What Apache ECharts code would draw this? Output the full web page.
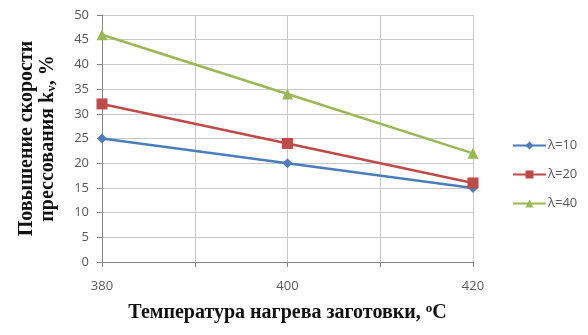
<!DOCTYPE html>
<html><head><meta charset="utf-8">
<script src="https://cdn.jsdelivr.net/npm/echarts@6/dist/echarts.min.js"></script>
<style>html,body{margin:0;padding:0;background:#fff}#c{width:588px;height:335px}</style>
</head><body><div id="c"></div>
<script>
var temps = [380, 400, 420];
var xTickLabels = ['380', '400', '420'];
var yTicks = [0, 5, 10, 15, 20, 25, 30, 35, 40, 45, 50];
var seriesNames = ['λ=10', 'λ=20', 'λ=40'];
var lambda10 = [25, 20, 15];
var lambda20 = [32, 24, 16];
var lambda40 = [46, 34, 22];

var colors = ['#4A7EBB', '#BE4B48', '#98B954'];
var symbols = ['diamond', 'rect', 'triangle'];
var sizes = [10, 11, 11];
var vals = [lambda10, lambda20, lambda40];

var chart = echarts.init(document.getElementById('c'));
var serif = '"Liberation Serif", "DejaVu Serif", serif';
var sans = '"Open Sans", "Liberation Sans", sans-serif';
chart.setOption({
  animation: false,
  grid: {left: 102, right: 115, top: 15, bottom: 73},
  legend: {
    orient: 'vertical', left: 507, top: 134, itemWidth: 33, itemHeight: 10, itemGap: 16,
    textStyle: {fontFamily: sans, fontSize: 13, color: '#595959', padding: [0, 0, 0, -3]},
    data: seriesNames
  },
  xAxis: {
    type: 'value', min: 380, max: 420, interval: 10,
    axisLine: {lineStyle: {color: '#868686'}},
    axisTick: {show: true, length: 5, lineStyle: {color: '#868686'}},
    splitLine: {show: true, lineStyle: {color: '#C8C8C8'}},
    axisLabel: {
      margin: 18, fontFamily: sans, fontSize: 13, color: '#595959',
      formatter: function (v) { var i = temps.indexOf(v); return i >= 0 ? xTickLabels[i] : ''; }
    },
    name: 'Температура нагрева заготовки, {sup|o}C',
    nameLocation: 'middle', nameGap: 40,
    nameTextStyle: {fontFamily: serif, fontWeight: 'bold', fontSize: 20, color: '#111',
      rich: {sup: {fontFamily: serif, fontWeight: 'bold', fontSize: 13, color: '#111', verticalAlign: 'top', padding: [0, 0, 9, 0]}}}
  },
  yAxis: {
    type: 'value', min: 0, max: 50, interval: 5,
    axisLine: {show: true, lineStyle: {color: '#868686'}},
    axisTick: {show: true, length: 5, lineStyle: {color: '#868686'}},
    splitLine: {show: true, lineStyle: {color: '#C8C8C8'}},
    axisLabel: {margin: 13, fontFamily: sans, fontSize: 13, color: '#595959',
      formatter: function (v) { return yTicks.indexOf(v) >= 0 ? String(v) : ''; }},
    name: 'Повышение скорости\nпрессования k{sub|v}, %',
    nameLocation: 'middle', nameGap: 44, nameRotate: 90,
    nameTextStyle: {fontFamily: serif, fontWeight: 'bold', fontSize: 20, color: '#111', lineHeight: 21,
      rich: {sub: {fontFamily: serif, fontWeight: 'bold', fontSize: 13, color: '#111', padding: [8, 0, 0, 0]}}}
  },
  series: seriesNames.map(function (n, i) {
    return {
      name: n, type: 'line',
      data: temps.map(function (t, j) { return [t, vals[i][j]]; }),
      symbol: symbols[i], symbolSize: sizes[i],
      lineStyle: {color: colors[i], width: 2.5},
      itemStyle: {color: colors[i]}
    };
  })
});
</script></body></html>
